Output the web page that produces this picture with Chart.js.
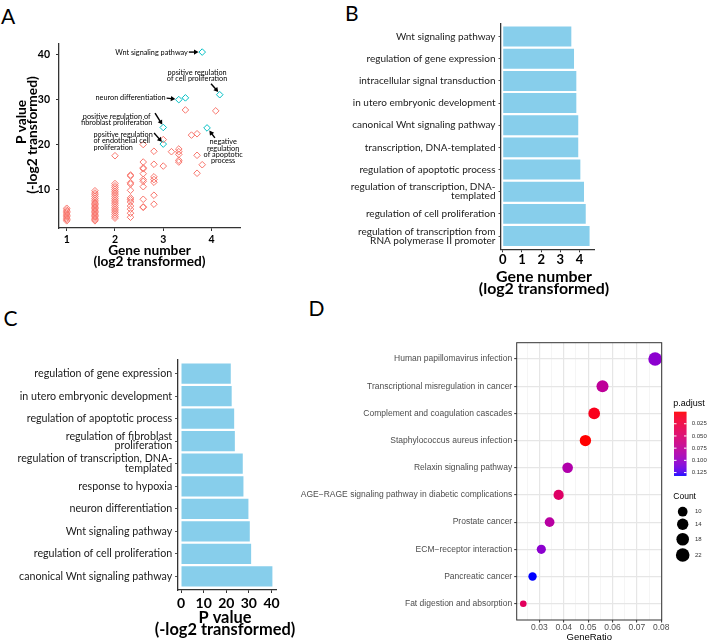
<!DOCTYPE html>
<html>
<head>
<meta charset="utf-8">
<script src="https://cdn.jsdelivr.net/npm/chart.js@4.4.1/dist/chart.umd.min.js"></script>
<style>
body{margin:0;background:#fff;width:708px;height:642px;overflow:hidden;position:relative;}
canvas{position:absolute;}
.tag{position:absolute;font:21px/21px Lato;color:#000;}
</style>
</head>
<body>
<div class="tag" style="left:1px;top:5px">A</div>
<div class="tag" style="left:345px;top:1.5px">B</div>
<div class="tag" style="left:3.5px;top:307px">C</div>
<div class="tag" style="left:308.5px;top:296.5px">D</div>
<canvas id="chartA" width="250" height="300" style="left:0;top:0"></canvas>
<canvas id="chartB" width="300" height="310" style="left:330px;top:0"></canvas>
<canvas id="chartC" width="300" height="312" style="left:0;top:330px"></canvas>
<canvas id="chartD" width="408" height="312" style="left:300px;top:330px"></canvas>
<script>
//Panel A data: gene number (log2) columns and the P values (-log2) found in each
var columnsA = [1, 1.585, 2, 2.322, 2.585, 2.807, 3, 3.17, 3.322, 3.459, 3.585, 3.7, 3.807, 4.087];
var pvalsA = [
    [3.0, 3.3, 3.6, 3.9, 4.2, 4.5, 4.8, 5.1, 5.4, 5.8],
    [3.0, 3.3, 3.6, 3.9, 4.2, 4.5, 4.8, 5.1, 5.4, 5.7, 6.0, 6.3, 6.6, 6.9, 7.2, 7.6, 8.0, 8.4, 8.8, 9.2, 9.7],
    [3.6, 4.0, 4.4, 4.8, 5.2, 5.6, 6.0, 6.4, 6.8, 7.2, 7.6, 8.0, 8.4, 8.8, 9.2, 9.6, 10.0, 10.4, 10.8, 11.3, 17.5],
    [3.8, 4.7, 5.6, 6.3, 7.2, 7.7, 8.1, 9.8, 11.2, 11.5, 13.0, 13.2],
    [6.0, 6.1, 7.8, 10.6, 11.8, 12.2, 13.5, 14.6, 14.8, 16.1, 20.0],
    [6.7, 8.7, 11.6, 12.2, 12.8, 15.6, 18.5],
    [15.2, 21.1],
    [18.4],
    [16.1, 16.5, 17.8, 18.4, 19.0],
    [27.7],
    [22.1],
    [13.6, 17.6, 22.4],
    [15.5],
    [27.5]
];
//highlighted terms (teal)
var hiLog2A = [3.807, 4.17, 3.322, 3.459, 3, 3, 3.907];
var hiPvalA = [40.6, 31.1, 30.0, 30.4, 23.8, 20.1, 23.7];
var ticksAX = [1, 2, 3, 4];
var ticksAY = [10, 20, 30, 40];

//Panel B data
var termsB = ['Wnt signaling pathway', 'regulation of gene expression', 'intracellular signal transduction',
    'in utero embryonic development', 'canonical Wnt signaling pathway', 'transcription, DNA-templated',
    'regulation of apoptotic process', ['regulation of transcription, DNA-', 'templated'],
    'regulation of cell proliferation', ['regulation of transcription from', 'RNA polymerase II promoter']];
var geneLog2B = [3.57, 3.71, 3.83, 3.83, 3.93, 3.93, 4.04, 4.23, 4.32, 4.52];
var ticksB = [0, 1, 2, 3, 4];

//Panel C data
var termsC = ['regulation of gene expression', 'in utero embryonic development', 'regulation of apoptotic process',
    ['regulation of fibroblast', 'proliferation'], ['regulation of transcription, DNA-', 'templated'],
    'response to hypoxia', 'neuron differentiation', 'Wnt signaling pathway',
    'regulation of cell proliferation', 'canonical Wnt signaling pathway'];
var pvalC = [22.0, 22.4, 23.5, 23.8, 27.3, 27.6, 29.8, 30.4, 31.0, 40.4];
var ticksC = [0, 10, 20, 30, 40];

//Panel D data
var termsD = ['Human papillomavirus infection', 'Transcriptional misregulation in cancer',
    'Complement and coagulation cascades', 'Staphylococcus aureus infection', 'Relaxin signaling pathway',
    'AGE\u2212RAGE signaling pathway in diabetic complications', 'Prostate cancer',
    'ECM\u2212receptor interaction', 'Pancreatic cancer', 'Fat digestion and absorption'];
var geneRatioD = [0.0775, 0.0559, 0.0525, 0.0489, 0.0416, 0.0379, 0.0342, 0.0308, 0.0272, 0.0234];
var countD = [22, 16, 15, 14, 12, 11, 10, 9, 8, 7];
var padjD = [0.105, 0.075, 0.008, 0.0003, 0.085, 0.045, 0.08, 0.105, 0.131, 0.04];
var majorTicksD = [0.03, 0.04, 0.05, 0.06, 0.07, 0.08];
var gridTicksD = [0.025, 0.03, 0.035, 0.04, 0.045, 0.05, 0.055, 0.06, 0.065, 0.07, 0.075, 0.08];
var padjTicksD = [0.025, 0.05, 0.075, 0.1, 0.125];
var countTicksD = [10, 14, 18, 22];

//Text labels with arrows in panel A (data units)
var notesA = [
    {lines: ['Wnt signaling pathway'], x: 3.51, y: 40.58, align: 'right', from: [3.53, 40.6], to: [3.73, 40.6]},
    {lines: ['positive regulation', 'of cell proliferation'], x: 3.70, y: 36.0, align: 'center', from: [3.99, 33.55], to: [4.14, 31.7]},
    {lines: ['neuron differentiation'], x: 3.05, y: 30.44, align: 'right', from: [3.07, 30.35], to: [3.25, 30.13]},
    {lines: ['positive regulation of', 'fibroblast proliferation'], x: 2.035, y: 26.29, align: 'center', from: [2.83, 27.0], to: [2.98, 24.44]},
    {lines: ['positive regulation', 'of endothelial cell', 'proliferation'], x: 1.555, y: 22.22, align: 'left', from: [2.81, 22.58], to: [2.97, 20.6]},
    {lines: ['negative', 'regulation', 'of apoptotic', 'process'], x: 4.24, y: 20.58, align: 'center', from: [4.07, 21.47], to: [3.955, 23.1]}
];

Chart.defaults.font.family = 'Lato';
Chart.defaults.animation = false;
Chart.defaults.plugins.legend.display = false;
Chart.defaults.plugins.tooltip.enabled = false;

function fixedTicks(values){
    return function(scale){
        scale.ticks = values.map(function(v){ return {value: v}; });
    };
}

function drawArrow(ctx, x1, y1, x2, y2){
    var ang = Math.atan2(y2 - y1, x2 - x1);
    var head = 4.5;
    ctx.beginPath();
    ctx.moveTo(x1, y1);
    ctx.lineTo(x2 - Math.cos(ang) * head * 0.8, y2 - Math.sin(ang) * head * 0.8);
    ctx.stroke();
    ctx.beginPath();
    ctx.moveTo(x2, y2);
    ctx.lineTo(x2 - head * Math.cos(ang) + 2.6 * Math.sin(ang), y2 - head * Math.sin(ang) - 2.6 * Math.cos(ang));
    ctx.lineTo(x2 - head * Math.cos(ang) - 2.6 * Math.sin(ang), y2 - head * Math.sin(ang) + 2.6 * Math.cos(ang));
    ctx.closePath();
    ctx.fill();
}

var notesPlugin = {
    id: 'notesA',
    afterDatasetsDraw: function(chart){
        var ctx = chart.ctx, xs = chart.scales.x, ys = chart.scales.y;
        ctx.save();
        ctx.fillStyle = '#000';
        ctx.strokeStyle = '#000';
        ctx.lineWidth = 1.4;
        ctx.font = '7.3px Lato';
        ctx.textBaseline = 'middle';
        notesA.forEach(function(n){
            ctx.textAlign = n.align;
            var px = xs.getPixelForValue(n.x), py = ys.getPixelForValue(n.y);
            n.lines.forEach(function(line, i){
                ctx.fillText(line, px, py + i * 6.4);
            });
            drawArrow(ctx, xs.getPixelForValue(n.from[0]), ys.getPixelForValue(n.from[1]),
                xs.getPixelForValue(n.to[0]), ys.getPixelForValue(n.to[1]));
        });
        ctx.restore();
    }
};

//axis titles that Chart.js would squeeze or centre differently are drawn here
var axisTitles = {
    id: 'axisTitles',
    afterDraw: function(chart, args, opts){
        var ctx = chart.ctx;
        ctx.save();
        ctx.fillStyle = '#000';
        ctx.font = 'bold ' + opts.size + 'px Lato';
        ctx.textAlign = 'center';
        ctx.textBaseline = 'middle';
        opts.lines.forEach(function(line, i){
            ctx.save();
            ctx.translate(opts.pos[i][0], opts.pos[i][1]);
            if(opts.rotate) ctx.rotate(-Math.PI / 2);
            ctx.fillText(line, 0, 0);
            ctx.restore();
        });
        ctx.restore();
    }
};

//Panel A
var salmonPts = [];
columnsA.forEach(function(x, i){
    pvalsA[i].forEach(function(y){ salmonPts.push({x: x, y: y}); });
});
var tealPts = hiLog2A.map(function(x, i){ return {x: x, y: hiPvalA[i]}; });

new Chart(document.getElementById('chartA'), {
    type: 'scatter',
    data: {datasets: [
        {data: salmonPts, pointStyle: 'rectRot', pointRadius: 3.3, pointBorderWidth: 1,
            pointBorderColor: '#F8766D', pointBackgroundColor: 'rgba(0,0,0,0)'},
        {data: tealPts, pointStyle: 'rectRot', pointRadius: 3.3, pointBorderWidth: 1,
            pointBorderColor: '#00BFC4', pointBackgroundColor: 'rgba(0,0,0,0)'}
    ]},
    options: {
        responsive: false, devicePixelRatio: 1,
        layout: {padding: {left: 0, top: 44, right: 10, bottom: 0}},
        plugins: {axisTitles: {lines: ['P value', '(-log2 transformed)'], pos: [[21.7, 122], [32.7, 135]], size: 13.7, rotate: true}},
        scales: {
            x: {type: 'linear', min: 0.84, max: 4.59,
                afterBuildTicks: fixedTicks(ticksAX),
                afterFit: function(s){ s.height = 72; },
                grid: {display: true, drawOnChartArea: false, tickLength: 3, color: '#333'},
                border: {display: true, color: '#333', width: 1.3},
                ticks: {autoSkip: false, maxRotation: 0, padding: 2, color: '#000',
                    font: {size: 10.5, weight: 'bold'}, callback: function(v){ return String(v); }},
                title: {display: true, text: ['Gene number', '(log2 transformed)'], color: '#000',
                    font: {size: 13.7, weight: 'bold', lineHeight: 0.8}, padding: {top: 0, bottom: 32.5}}
            },
            y: {type: 'linear', min: 1.4, max: 42.4,
                afterBuildTicks: fixedTicks(ticksAY),
                afterFit: function(s){ s.width = 59; },
                grid: {display: true, drawOnChartArea: false, tickLength: 3, color: '#333'},
                border: {display: true, color: '#333', width: 1.3},
                ticks: {autoSkip: false, padding: 6, color: '#000',
                    font: {size: 10.5, weight: 'bold'}, callback: function(v){ return String(v); }}
            }
        }
    },
    plugins: [notesPlugin, axisTitles]
});

//Panels B and C: horizontal bars
function barPanel(id, terms, values, ticks, g){
    return new Chart(document.getElementById(id), {
        type: 'bar',
        data: {datasets: [{
            data: values.map(function(v, i){ return {x: v, y: i + 1}; }),
            backgroundColor: '#87CEEB', borderWidth: 0, barPercentage: 1, categoryPercentage: 0.9
        }]},
        options: {
            indexAxis: 'y', responsive: false, devicePixelRatio: 1,
            layout: {padding: {left: 0, top: g.top, right: g.right, bottom: 0}},
            plugins: {axisTitles: g.title},
            scales: {
                x: {type: 'linear', min: g.xmin, max: g.xmax,
                    afterBuildTicks: fixedTicks(ticks),
                    afterFit: function(s){ s.height = g.xh; },
                    grid: {display: true, drawOnChartArea: false, tickLength: 3, color: '#333', offset: false},
                    border: {display: true, color: '#333', width: 1.3},
                    ticks: {autoSkip: false, maxRotation: 0, padding: g.xpad, color: '#000',
                        font: {size: g.tickSize, weight: 'bold'}, callback: function(v){ return String(v); }}
                },
                y: {type: 'linear', reverse: true, min: 0.4, max: 10.6, offset: false,
                    afterBuildTicks: fixedTicks(terms.map(function(t, i){ return i + 1; })),
                    afterFit: function(s){ s.width = g.yw; },
                    grid: {display: true, drawOnChartArea: false, tickLength: 2.5, color: '#555', offset: false},
                    border: {display: true, color: '#333', width: 1.3},
                    ticks: {autoSkip: false, padding: g.ypad, color: '#1a1a1a',
                        font: {size: g.labelSize, lineHeight: 0.9}, callback: function(v){ return terms[v - 1]; }}
                }
            }
        },
        plugins: [axisTitles]
    });
}

barPanel('chartB', termsB, geneLog2B, ticksB, {
    top: 23.3, right: 36, xmin: -0.09, xmax: 4.75, xh: 60.7, yw: 171,
    tickSize: 13, xpad: 0, ypad: 3, labelSize: 10,
    title: {lines: ['Gene number', '(log2 transformed)'], pos: [[214, 276.7], [214, 289.3]], size: 15.9}
});

barPanel('chartC', termsC, pvalC, ticksC, {
    top: 30, right: 23.3, xmin: -1.55, xmax: 42.3, xh: 52, yw: 177.5,
    tickSize: 14, xpad: 1.9, ypad: 2.8, labelSize: 10.7,
    title: {lines: ['P value', '(-log2 transformed)'], pos: [[225, 287.7], [225, 300]], size: 16.4}
});

//Panel D: colour by p.adjust (red to blue through Lab), size by Count
function toLin(c){ c /= 255; return c <= 0.04045 ? c / 12.92 : Math.pow((c + 0.055) / 1.055, 2.4); }
function toByte(c){
    c = c <= 0.0031308 ? 12.92 * c : 1.055 * Math.pow(c, 1 / 2.4) - 0.055;
    return Math.round(Math.max(0, Math.min(1, c)) * 255);
}
function rgbToLab(r, g, b){
    r = toLin(r); g = toLin(g); b = toLin(b);
    var x = (0.4124 * r + 0.3576 * g + 0.1805 * b) / 0.95047;
    var y = 0.2126 * r + 0.7152 * g + 0.0722 * b;
    var z = (0.0193 * r + 0.1192 * g + 0.9505 * b) / 1.08883;
    var f = function(t){ return t > 0.008856 ? Math.cbrt(t) : 7.787 * t + 16 / 116; };
    return [116 * f(y) - 16, 500 * (f(x) - f(y)), 200 * (f(y) - f(z))];
}
function labToRgb(L, a, b){
    var fy = (L + 16) / 116, fx = fy + a / 500, fz = fy - b / 200;
    var inv = function(t){ return t > 0.206893 ? t * t * t : (t - 16 / 116) / 7.787; };
    var x = inv(fx) * 0.95047, y = inv(fy), z = inv(fz) * 1.08883;
    var r = 3.2406 * x - 1.5372 * y - 0.4986 * z;
    var g = -0.9689 * x + 1.8758 * y + 0.0415 * z;
    var bb = 0.0557 * x - 0.2040 * y + 1.0570 * z;
    return 'rgb(' + toByte(r) + ',' + toByte(g) + ',' + toByte(bb) + ')';
}
var lowLab = rgbToLab(255, 0, 0), highLab = rgbToLab(0, 0, 255);
var pMin = Math.min.apply(null, padjD), pMax = Math.max.apply(null, padjD);
function padjColor(p){
    var t = (p - pMin) / (pMax - pMin);
    return labToRgb(lowLab[0] + t * (highLab[0] - lowLab[0]),
        lowLab[1] + t * (highLab[1] - lowLab[1]),
        lowLab[2] + t * (highLab[2] - lowLab[2]));
}
var cMin = Math.min.apply(null, countD), cMax = Math.max.apply(null, countD);
function countRadius(c){
    return 3.3 + 3.5 * Math.sqrt(Math.max(0, c - cMin) / (cMax - cMin));
}
function isMajorD(v){
    return majorTicksD.some(function(m){ return Math.abs(m - v) < 1e-9; });
}

var panelBorder = {
    id: 'panelBorder',
    afterDatasetsDraw: function(chart){
        var a = chart.chartArea, ctx = chart.ctx;
        ctx.save();
        ctx.strokeStyle = '#333';
        ctx.lineWidth = 1;
        ctx.strokeRect(a.left, a.top, a.right - a.left, a.bottom - a.top);
        ctx.restore();
    }
};

var legendD = {
    id: 'legendD',
    afterDraw: function(chart){
        var ctx = chart.ctx;
        var barX = 374, barTop = 81.7, barW = 12.5, pxPer = 488;
        ctx.save();
        ctx.fillStyle = '#000';
        ctx.font = '9px "Liberation Sans"';
        ctx.textAlign = 'left';
        ctx.textBaseline = 'middle';
        ctx.fillText('p.adjust', 373.3, 74);
        var barH = (pMax - pMin) * pxPer;
        for(var i = 0; i < barH; i++){
            ctx.fillStyle = padjColor(pMin + (i + 0.5) / pxPer);
            ctx.fillRect(barX, barTop + i, barW, 1.2);
        }
        ctx.font = '6px "Liberation Sans"';
        padjTicksD.forEach(function(v){
            var y = barTop + (v - pMin) * pxPer;
            ctx.strokeStyle = '#fff';
            ctx.lineWidth = 1;
            ctx.beginPath();
            ctx.moveTo(barX, y); ctx.lineTo(barX + 2.5, y);
            ctx.moveTo(barX + barW - 2.5, y); ctx.lineTo(barX + barW, y);
            ctx.stroke();
            ctx.fillStyle = '#333';
            ctx.fillText(v.toFixed(3), 391.7, y);
        });
        ctx.fillStyle = '#000';
        ctx.font = '8.5px "Liberation Sans"';
        ctx.fillText('Count', 373.3, 166.7);
        var keyY = [181.7, 194.3, 209.3, 225];
        ctx.font = '6px "Liberation Sans"';
        countTicksD.forEach(function(c, i){
            ctx.fillStyle = '#000';
            ctx.beginPath();
            ctx.arc(382.7, keyY[i], countRadius(c), 0, Math.PI * 2);
            ctx.fill();
            ctx.fillStyle = '#333';
            ctx.fillText(String(c), 395, keyY[i]);
        });
        ctx.restore();
    }
};

new Chart(document.getElementById('chartD'), {
    type: 'bubble',
    data: {datasets: [{
        data: termsD.map(function(t, i){ return {x: geneRatioD[i], y: i + 1, r: countRadius(countD[i])}; }),
        backgroundColor: padjD.map(padjColor), borderWidth: 0, hoverBorderWidth: 0
    }]},
    options: {
        responsive: false, devicePixelRatio: 1,
        layout: {padding: {left: 0, top: 12.7, right: 46.3, bottom: 0}},
        scales: {
            x: {type: 'linear', min: 0.0207, max: 0.0802,
                afterBuildTicks: fixedTicks(gridTicksD),
                afterFit: function(s){ s.height = 22; },
                grid: {
                    color: function(c){ return c.tick && isMajorD(c.tick.value) ? '#E6E6E6' : '#F0F0F0'; },
                    lineWidth: function(c){ return c.tick && isMajorD(c.tick.value) ? 1.2 : 0.7; },
                    tickColor: function(c){ return c.tick && isMajorD(c.tick.value) ? '#333' : 'rgba(0,0,0,0)'; },
                    tickWidth: 1, tickLength: 2.5
                },
                border: {display: false},
                ticks: {autoSkip: false, maxRotation: 0, padding: 0, color: '#4D4D4D',
                    font: {family: 'Liberation Sans', size: 8.5},
                    callback: function(v){ return isMajorD(v) ? v.toFixed(2) : ''; }},
                title: {display: true, text: 'GeneRatio', color: '#000',
                    font: {family: 'Liberation Sans', size: 9.5, lineHeight: 1}, padding: {top: 0, bottom: 0}}
            },
            y: {type: 'linear', reverse: true, min: 0.4, max: 10.6,
                afterBuildTicks: fixedTicks(termsD.map(function(t, i){ return i + 1; })),
                afterFit: function(s){ s.width = 216.7; },
                grid: {color: '#E6E6E6', lineWidth: 1.2, tickColor: '#333', tickWidth: 1, tickLength: 2.5},
                border: {display: false},
                ticks: {autoSkip: false, padding: 2, color: '#4D4D4D',
                    font: {family: 'Liberation Sans', size: 8.5},
                    callback: function(v){ return termsD[v - 1]; }}
            }
        }
    },
    plugins: [panelBorder, legendD]
});
</script>
</body>
</html>
